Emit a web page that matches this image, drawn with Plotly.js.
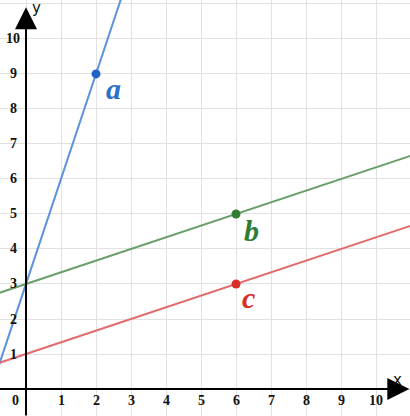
<!DOCTYPE html>
<html><head><meta charset="utf-8">
<script src="https://cdn.plot.ly/plotly-3.0.1.min.js"></script>
<style>html,body{margin:0;padding:0;background:#fff}</style>
</head><body><div id="chart" style="width:410px;height:416px"></div>
<script>
// Lines
const lineA_x = [-1, 0, 2, 3];
const lineA_y = [0, 3, 9, 12];
const lineB_x = [-1, 0, 6, 12];
const lineB_y = [2.667, 3, 5, 7];
const lineC_x = [-1, 0, 6, 12];
const lineC_y = [0.667, 1, 3, 5];
// Highlighted points
const pointA = {x: [2], y: [9]};
const pointB = {x: [6], y: [5]};
const pointC = {x: [6], y: [3]};
// Labels
const lineLabels = ['a', 'b', 'c'];
const xTickVals = [0, 1, 2, 3, 4, 5, 6, 7, 8, 9, 10];
const yTickVals = [1, 2, 3, 4, 5, 6, 7, 8, 9, 10];

const serif = 'Liberation Serif';
const traces = [
  {x: lineA_x, y: lineA_y, mode: 'lines', line: {color: '#5b93dc', width: 2}, hoverinfo: 'skip'},
  {x: lineB_x, y: lineB_y, mode: 'lines', line: {color: '#6a9f6a', width: 2}, hoverinfo: 'skip'},
  {x: lineC_x, y: lineC_y, mode: 'lines', line: {color: '#e46a6a', width: 2}, hoverinfo: 'skip'},
  {x: pointA.x, y: pointA.y, mode: 'markers', marker: {color: '#1f63c6', size: 9}},
  {x: pointB.x, y: pointB.y, mode: 'markers', marker: {color: '#2e7d32', size: 9}},
  {x: pointC.x, y: pointC.y, mode: 'markers', marker: {color: '#d93025', size: 9}}
];

const ann = [];
// axes arrows
ann.push({x: 10.95, y: 0, ax: -0.8, ay: 0, axref: 'x', ayref: 'y', xref: 'x', yref: 'y',
  showarrow: true, arrowhead: 2, arrowsize: 2.2, arrowwidth: 2, arrowcolor: '#000', text: ''});
ann.push({x: 0, y: 10.9, ax: 0, ay: -0.8, axref: 'x', ayref: 'y', xref: 'x', yref: 'y',
  showarrow: true, arrowhead: 2, arrowsize: 2.2, arrowwidth: 2, arrowcolor: '#000', text: ''});
ann.push({x: 10.62, y: 0.25, text: 'x', showarrow: false, font: {family: 'DejaVu Sans', size: 15, color: '#111'}});
ann.push({x: 0.3, y: 10.87, text: 'y', showarrow: false, font: {family: 'DejaVu Sans', size: 15, color: '#111'}});
// tick labels
xTickVals.forEach(v => ann.push({x: v === 0 ? -0.29 : v, y: -0.34, text: '<b>' + v + '</b>', showarrow: false,
  font: {family: serif, size: 14, color: '#111'}}));
yTickVals.forEach(v => ann.push({x: -0.36, y: v, text: '<b>' + v + '</b>', showarrow: false,
  font: {family: serif, size: 14, color: '#111'}}));
// line labels
const labelPos = [[2.49, 8.57, '#2a6fc9'], [6.43, 4.54, '#2e7d32'], [6.37, 2.6, '#d93025']];
lineLabels.forEach((t, i) => ann.push({x: labelPos[i][0], y: labelPos[i][1], text: '<b><i>' + t + '</i></b>',
  showarrow: false, font: {family: serif, size: 30, color: labelPos[i][2]}}));

const layout = {
  width: 410, height: 416, margin: {l: 0, r: 0, t: 0, b: 0},
  paper_bgcolor: '#fff', plot_bgcolor: '#fff', showlegend: false,
  xaxis: {range: [-0.743, 10.97], dtick: 1, tick0: 0, showgrid: true, gridcolor: '#e2e2e2', gridwidth: 1,
    zeroline: false, showticklabels: false, ticks: '', fixedrange: true},
  yaxis: {range: [-0.77, 11.11], dtick: 1, tick0: 0, showgrid: true, gridcolor: '#e2e2e2', gridwidth: 1,
    zeroline: false, showticklabels: false, ticks: '', fixedrange: true},
  annotations: ann
};
Plotly.newPlot('chart', traces, layout, {staticPlot: true});
</script></body></html>
